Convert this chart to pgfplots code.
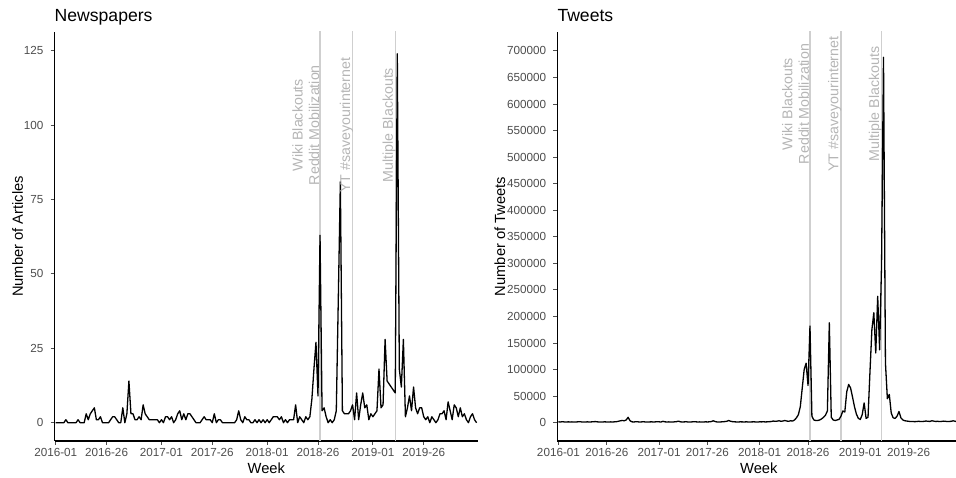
\documentclass[border=0pt]{standalone}
\usepackage{pgfplots}
\pgfplotsset{compat=1.18}
\usepackage{pgfplotstable}
\usepackage{fontspec}
\setmainfont{Liberation Sans}
\definecolor{tickgray}{HTML}{4D4D4D}
\definecolor{evline}{HTML}{CFCFCF}
\definecolor{evtext}{HTML}{B5B5B5}

\pgfplotstableread{
w v
0 0
1 0
2 0
3 0
4 0
5 1
6 0
7 0
8 0
9 0
10 0
11 1
12 0
13 0
14 0
15 3
16 1
17 3
18 4
19 5
20 1
21 1
22 2
23 0
24 0
25 0
26 0
27 1
28 2
29 2
30 1
31 0
32 0
33 5
34 0
35 3
36 14
37 3
38 3
39 1
40 1
41 2
42 1
43 6
44 3
45 2
46 1
47 1
48 1
49 1
50 1
51 0
52 1
53 0
54 2
55 2
56 1
57 2
58 0
59 1
60 3
61 4
62 1
63 3
64 1
65 3
66 3
67 2
68 1
69 0
70 0
71 0
72 1
73 2
74 1
75 1
76 1
77 0
78 3
79 0
80 1
81 1
82 0
83 0
84 0
85 0
86 0
87 0
88 0
89 1
90 4
91 1
92 0
93 2
94 1
95 1
96 0
97 0
98 1
99 0
100 1
101 0
102 1
103 0
104 1
105 0
106 1
107 2
108 2
109 2
110 1
111 2
112 0
113 1
114 0
115 1
116 1
117 1
118 6
119 0
120 2
121 1
122 0
123 2
124 1
125 2
126 8
127 18
128 27
129 9
130 63
131 4
132 5
133 2
134 0
135 1
136 0
137 1
138 4
139 42
140 81
141 4
142 3
143 3
144 3
145 4
146 6
147 1
148 10
149 1
150 6
151 10
152 5
153 6
154 1
155 3
156 2
157 3
158 4
159 18
160 5
161 6
162 28
163 14
164 13
165 12
166 11
167 10
168 124
169 18
170 12
171 28
172 2
173 5
174 9
175 4
176 12
177 5
178 3
179 5
180 5
181 2
182 1
183 2
184 0
185 2
186 1
187 0
188 1
189 3
190 3
191 4
192 1
193 7
194 4
195 1
196 6
197 5
198 2
199 5
200 2
201 3
202 1
203 0
204 2
205 3
206 1
207 0
}\newsdata

\pgfplotstableread{
w v
0 1500
1 1200
2 1800
3 1300
4 1000
5 1500
6 1200
7 1400
8 1000
9 1200
10 1500
11 1800
12 1300
13 1000
14 1200
15 1500
16 1100
17 1400
18 1600
19 2000
20 1500
21 1200
22 1000
23 1300
24 1500
25 1200
26 1000
27 1400
28 1200
29 1500
30 1800
31 2500
32 3500
33 4000
34 3500
35 5000
36 10000
37 3500
38 1500
39 1200
40 1800
41 1500
42 1200
43 1400
44 1600
45 1200
46 1000
47 1300
48 1500
49 1200
50 1400
51 1800
52 1500
53 1200
54 2500
55 1500
56 1200
57 1400
58 1200
59 1000
60 1500
61 1800
62 2800
63 1500
64 1200
65 1400
66 1600
67 1200
68 1000
69 1400
70 1800
71 1500
72 1200
73 1400
74 1000
75 1200
76 1500
77 1300
78 1500
79 2000
80 3500
81 2000
82 1200
83 1000
84 1400
85 1600
86 2000
87 2500
88 4000
89 2500
90 1800
91 1500
92 1300
93 1200
94 1500
95 1400
96 1200
97 1500
98 1300
99 1200
100 1400
101 1500
102 1300
103 1200
104 1500
105 1400
106 1600
107 1300
108 1500
109 1800
110 2000
111 3000
112 2500
113 2800
114 3500
115 2500
116 3000
117 4000
118 3000
119 2500
120 3500
121 3000
122 5000
123 9000
124 15000
125 30000
126 65000
127 100000
128 112000
129 70000
130 182000
131 12000
132 5000
133 4000
134 4000
135 5000
136 7000
137 10000
138 14000
139 22000
140 188000
141 10000
142 5000
143 4000
144 5000
145 6000
146 12000
147 22000
148 20000
149 58000
150 72000
151 65000
152 48000
153 30000
154 16000
155 8000
156 6000
157 15000
158 37000
159 8000
160 10000
161 95000
162 175000
163 207000
164 131000
165 238000
166 137000
167 300000
168 688000
169 113000
170 45000
171 53000
172 18000
173 9000
174 8000
175 12000
176 21000
177 9000
178 5000
179 3500
180 3000
181 2500
182 2000
183 2200
184 1800
185 2000
186 2500
187 2200
188 2000
189 2500
190 3000
191 2500
192 2200
193 3500
194 2800
195 2200
196 2500
197 2000
198 2300
199 2800
200 2500
201 2000
202 2200
203 2500
204 3500
205 2500
206 2000
207 2200
}\tweetdata

\pgfplotsset{
  panel/.style={
    scale only axis, anchor=south west,
    axis x line*=bottom, axis y line*=left,
    axis line style={line width=1.1pt, black, -},
    tick align=outside, major tick length=4pt,
    every tick/.style={line width=0.9pt, color=tickgray},
    xtick={0,25,52,77,104,129,156,181},
    xticklabels={2016-01,2016-26,2017-01,2017-26,2018-01,2018-26,2019-01,2019-26},
    tick label style={font=\fontsize{11.7}{13}\selectfont, text=tickgray},
    xticklabel style={anchor=north, inner sep=0pt, yshift=-3.6pt},
    yticklabel style={anchor=east, inner sep=0pt, xshift=-7pt},
    scaled y ticks=false,
    yticklabel={\pgfmathprintnumber[fixed, precision=0, 1000 sep={}, assume math mode=true]{\tick}},
    xmin=-0.6, xmax=207.7,
  },
  evl/.style={evline, line width=1.3pt, forget plot},
}
\tikzset{
  evt/.style={rotate=90, anchor=base, text=evtext, font=\fontsize{14.2}{16}\selectfont, inner sep=0pt},
}

\begin{document}
\begin{tikzpicture}
\useasboundingbox (0pt,0pt) rectangle (956pt,478pt);

% ---- Left panel: Newspapers
\begin{axis}[panel, at={(54.5pt,37pt)}, width=423.5pt, height=409pt,
  ymin=-6.15, ymax=131.3, ytick={0,25,50,75,100,125}]
\addplot[evl] coordinates {(130,-20) (130,200)};
\addplot[evl] coordinates {(146,-20) (146,200)};
\addplot[evl] coordinates {(167,-20) (167,200)};
\addplot[black, line width=1.3pt, line join=round] table[x=w, y=v] {\newsdata};
\node[evt] at ([xshift=-17.5pt]axis cs:130,100) {Wiki Blackouts};
\node[evt] at ([xshift=-1pt]axis cs:130,100) {Reddit Mobilization};
\node[evt] at ([xshift=-2.5pt]axis cs:146,100) {YT \#saveyourinternet};
\node[evt] at ([xshift=-2.5pt]axis cs:167,100) {Multiple Blackouts};
\end{axis}

% ---- Right panel: Tweets
\begin{axis}[panel, at={(557.3pt,37pt)}, width=403pt, height=409pt,
  ymin=-34600, ymax=735700, ytick={0,50000,100000,150000,200000,250000,300000,350000,400000,450000,500000,550000,600000,650000,700000}]
\addplot[evl] coordinates {(130,-100000) (130,900000)};
\addplot[evl] coordinates {(146,-100000) (146,900000)};
\addplot[evl] coordinates {(167,-100000) (167,900000)};
\addplot[black, line width=1.3pt, line join=round] table[x=w, y=v] {\tweetdata};
\node[evt] at ([xshift=-17.5pt]axis cs:130,600000) {Wiki Blackouts};
\node[evt] at ([xshift=-1pt]axis cs:130,600000) {Reddit Mobilization};
\node[evt] at ([xshift=-2.5pt]axis cs:146,600000) {YT \#saveyourinternet};
\node[evt] at ([xshift=-2.5pt]axis cs:167,600000) {Multiple Blackouts};
\end{axis}

% ---- titles and axis labels
\node[anchor=base west, inner sep=0pt, font=\fontsize{17.6}{20}\selectfont] at (54.5pt,456.3pt) {Newspapers};
\node[anchor=base west, inner sep=0pt, font=\fontsize{17.6}{20}\selectfont] at (557.3pt,456.3pt) {Tweets};
\node[anchor=base, inner sep=0pt, font=\fontsize{14.7}{17}\selectfont] at (266.3pt,4pt) {Week};
\node[anchor=base, inner sep=0pt, font=\fontsize{14.7}{17}\selectfont] at (758.8pt,4pt) {Week};
\node[rotate=90, anchor=base, inner sep=0pt, font=\fontsize{14.7}{17}\selectfont] at (23pt,241.5pt) {Number of Articles};
\node[rotate=90, anchor=base, inner sep=0pt, font=\fontsize{14.7}{17}\selectfont] at (505pt,241.5pt) {Number of Tweets};
\end{tikzpicture}
\end{document}
